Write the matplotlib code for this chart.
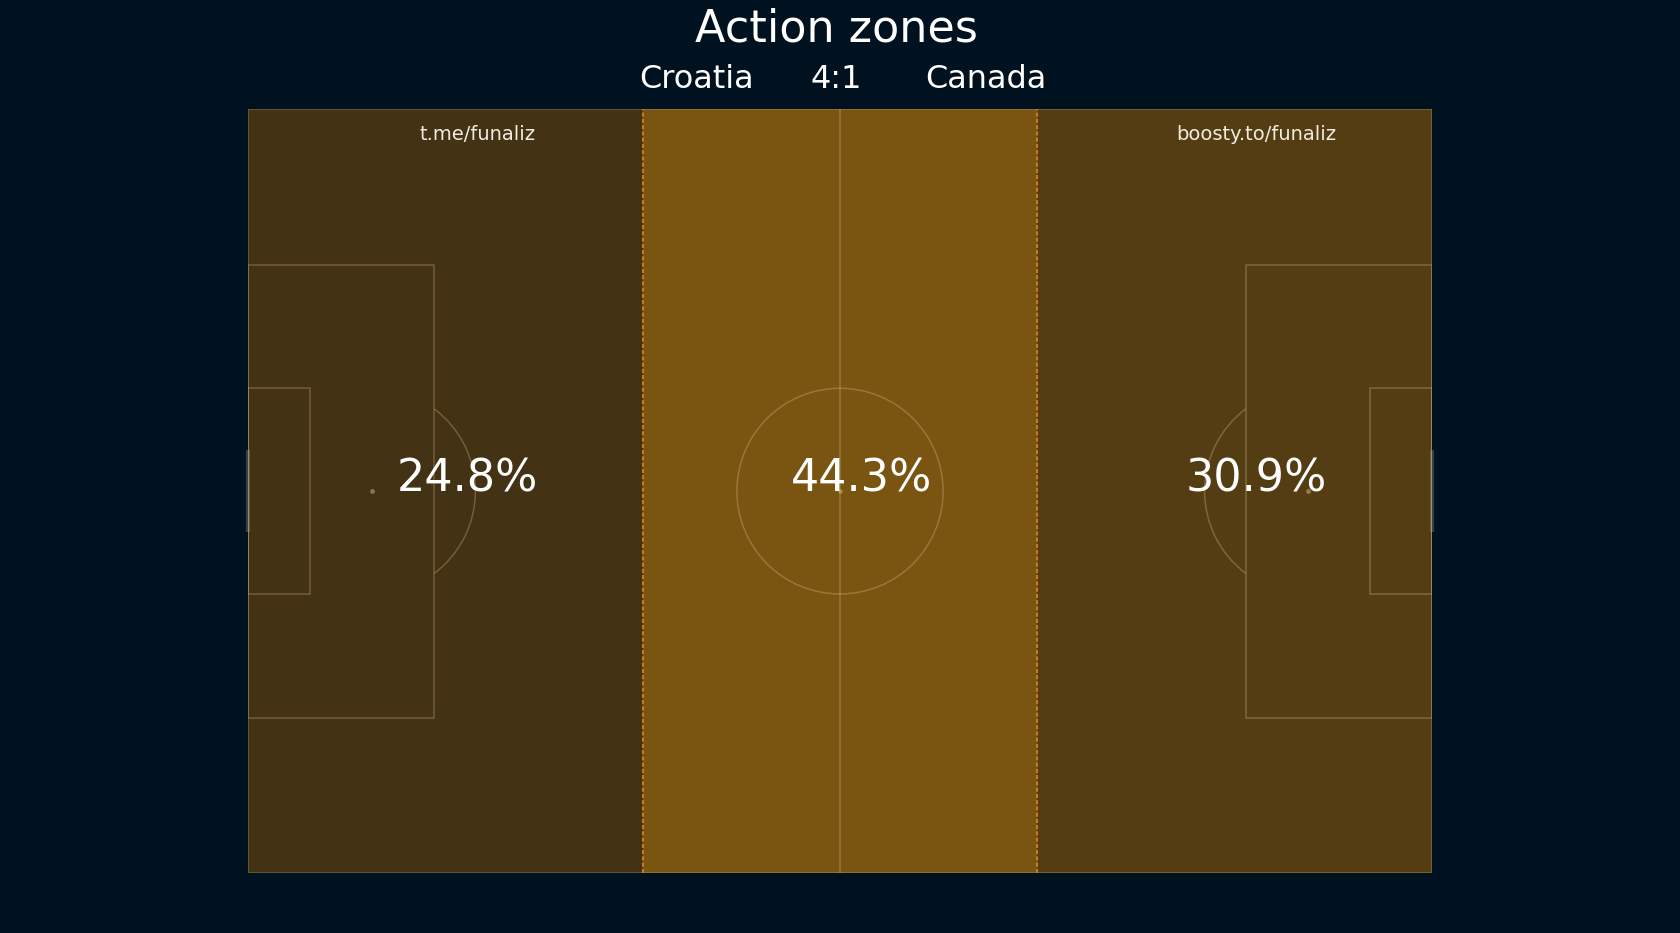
import numpy as np
import matplotlib
matplotlib.use('Agg')
import matplotlib.pyplot as plt
from matplotlib.patches import Rectangle, Arc, Circle
from matplotlib.colors import LinearSegmentedColormap, Normalize

# Data
zone_names = ['Defence', 'Middle', 'Attack']
zone_share = [24.8, 44.3, 30.9]
zone_edges = [0, 35, 70, 105]
home_team = 'Croatia'
away_team = 'Canada'
score = '4:1'
links = ['t.me/funaliz', 'boosty.to/funaliz']

BG = '#00121f'
LINE = '#e0c890'

fig = plt.figure(figsize=(16.8, 9.33), dpi=100, facecolor=BG)
ax = fig.add_axes([0.1478, 0.064, 0.7044, 0.8192])
ax.set_facecolor(BG)
ax.set_xlim(0, 105)
ax.set_ylim(0, 68)
ax.axis('off')

# zones coloured by share
cmap = LinearSegmentedColormap.from_list('zones', ['#433213', '#7a5411'])
norm = Normalize(min(zone_share), max(zone_share))
centers = [(zone_edges[i] + zone_edges[i + 1]) / 2 for i in range(3)]
widths = np.diff(zone_edges)
ax.bar(centers, 68, width=widths, bottom=0, color=cmap(norm(zone_share)), zorder=1)

# pitch markings
lk = dict(edgecolor=LINE, facecolor='none', lw=1.1, alpha=0.3, zorder=2)
ax.add_patch(Rectangle((0, 0), 105, 68, **lk))
ax.plot([52.5, 52.5], [0, 68], color=LINE, lw=1.1, alpha=0.3, zorder=2)
ax.add_patch(Circle((52.5, 34), 9.15, **lk))
for x0, sgn in [(0, 1), (105, -1)]:
    ax.add_patch(Rectangle((x0 if sgn > 0 else x0 - 16.5, 34 - 20.16), 16.5, 40.32, **lk))
    ax.add_patch(Rectangle((x0 if sgn > 0 else x0 - 5.5, 34 - 9.16), 5.5, 18.32, **lk))
    spot = x0 + sgn * 11
    ax.scatter([spot], [34], s=12, color=LINE, alpha=0.45, zorder=2, linewidths=0)
    if sgn > 0:
        t1, t2 = -53, 53
    else:
        t1, t2 = 127, 233
    ax.add_patch(Arc((spot, 34), 18.3, 18.3, theta1=t1, theta2=t2,
                     edgecolor=LINE, lw=1.1, alpha=0.3, zorder=2))
    ax.plot([x0, x0], [34 - 3.66, 34 + 3.66], color='#9a9a9a', lw=3, alpha=0.35,
            zorder=2, solid_capstyle='butt', clip_on=False)
ax.scatter([52.5], [34], s=10, color=LINE, alpha=0.45, zorder=2, linewidths=0)

# zone boundaries
for xb in zone_edges[1:-1]:
    ax.plot([xb, xb], [0, 68], color='#c87a1e', lw=1.5, dashes=(2.0, 1.0), zorder=3)

# percentages
for c, v in zip(centers, zone_share):
    ax.text(c + 1.9, 34, f'{v}%', color='white', fontsize=32, ha='center', va='baseline', zorder=4)

ax.text(20.3, 65.24, links[0], color='#f0ece0', fontsize=14, ha='center', va='baseline', zorder=4)
ax.text(89.4, 65.24, links[1], color='#f0ece0', fontsize=14, ha='center', va='baseline', zorder=4)

fig.text(0.498, 0.9553, 'Action zones', color='white', fontsize=32, ha='center', va='baseline')
fig.text(0.4149, 0.9062, home_team, color='white', fontsize=23, ha='center', va='baseline')
fig.text(0.4975, 0.9062, score, color='white', fontsize=23, ha='center', va='baseline')
fig.text(0.5866, 0.9062, away_team, color='white', fontsize=23, ha='center', va='baseline')

fig.savefig('out.png', dpi=100, facecolor=BG)
